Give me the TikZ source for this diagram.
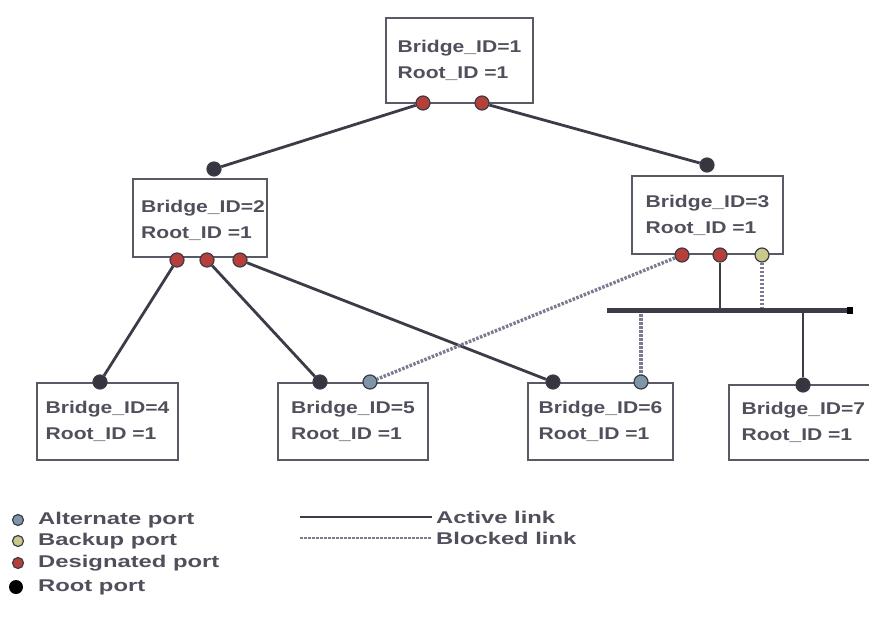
\documentclass[tikz,border=0pt]{standalone}
\usepackage{fontspec}
\setmainfont{Liberation Sans}
\definecolor{linkgray}{HTML}{3C3C48}
\definecolor{boxgray}{HTML}{5A5A64}
\definecolor{txtgray}{HTML}{50505C}
\definecolor{desred}{HTML}{B5403A}
\definecolor{altblue}{HTML}{7F95A8}
\definecolor{bakyellow}{HTML}{C9C98A}
\definecolor{blockgray}{HTML}{7A7A90}
\newcommand{\wide}[1]{\scalebox{1.24}[1]{#1}}
\newcommand{\legwide}[1]{\scalebox{1.4}[1]{#1}}
\tikzset{
  bridge/.style={draw=boxgray, line width=2pt, fill=white, inner sep=0pt},
  idtext/.style={text=txtgray, font=\bfseries\fontsize{17}{26}\selectfont, align=left},
  port/.style={circle, draw=linkgray, line width=1.2pt, minimum size=14pt, inner sep=0pt},
  desport/.style={port, fill=desred},
  rootport/.style={port, fill=linkgray!90!black},
  altport/.style={port, fill=altblue},
  bakport/.style={port, fill=bakyellow},
  active/.style={draw=linkgray, line width=2.8pt},
  blocked/.style={draw=blockgray, line width=3.4pt, dash pattern=on 2.5pt off 1.5pt},
  legtext/.style={text=txtgray, font=\bfseries\fontsize{17}{20}\selectfont, anchor=west, inner sep=0pt}
}
\begin{document}
\begin{tikzpicture}[x=1pt, y=-1pt]
\clip (0,0) rectangle (869,616);
\fill[white] (0,0) rectangle (869,616);

% bridges
\node[bridge, minimum width=147pt, minimum height=85pt] (b1) at (459.5,60.5) {};
\node[bridge, minimum width=134pt, minimum height=78pt] (b2) at (200,218) {};
\node[bridge, minimum width=151pt, minimum height=78pt] (b3) at (707.5,215) {};
\node[bridge, minimum width=141pt, minimum height=77pt] (b4) at (107.5,421.5) {};
\node[bridge, minimum width=150pt, minimum height=77pt] (b5) at (353,421.5) {};
\node[bridge, minimum width=145pt, minimum height=77pt] (b6) at (600.5,421.5) {};
\node[bridge, minimum width=152pt, minimum height=75pt] (b7) at (805,422.5) {};

\node[idtext] (t1) at (b1) {\wide{Bridge\_ID=1}\\\wide{Root\_ID =1}};
\node[idtext] (t2) at ([xshift=3pt,yshift=-2pt]b2) {\wide{Bridge\_ID=2}\\\wide{Root\_ID =1}};
\node[idtext] (t3) at (b3) {\wide{Bridge\_ID=3}\\\wide{Root\_ID =1}};
\node[idtext] (t4) at (b4) {\wide{Bridge\_ID=4}\\\wide{Root\_ID =1}};
\node[idtext] (t5) at (b5) {\wide{Bridge\_ID=5}\\\wide{Root\_ID =1}};
\node[idtext] (t6) at (b6) {\wide{Bridge\_ID=6}\\\wide{Root\_ID =1}};
\node[idtext, anchor=west] (t7) at ([xshift=10pt]b7.west) {\wide{Bridge\_ID=7}\\\wide{Root\_ID =1}};

% shared segment
\coordinate (busL) at (607,310);
\coordinate (busR) at (852,310);
\coordinate (bus3a) at (720,310);
\coordinate (bus3b) at (762,310);
\coordinate (bus6) at (641,310);
\coordinate (bus7) at (803,310);

% ports
\node[desport] (p1a) at (423,103) {};
\node[desport] (p1b) at (482,103) {};
\node[rootport] (r2) at (214,169) {};
\node[desport] (p2a) at (177,260) {};
\node[desport] (p2b) at (207,260) {};
\node[desport] (p2c) at (240,260) {};
\node[rootport] (r3) at (707,165) {};
\node[desport] (p3a) at (682,255) {};
\node[desport] (p3b) at (720,255) {};
\node[bakport] (k3) at (762,255) {};
\node[rootport] (r4) at (100,382) {};
\node[rootport] (r5) at (320,382) {};
\node[altport] (a5) at (370,382) {};
\node[rootport] (r6) at (553,382) {};
\node[altport] (a6) at (641,382) {};
\node[rootport] (r7) at (803,385) {};

% links
\draw[active] (p1a) -- (r2);
\draw[active] (p1b) -- (r3);
\draw[active] (p2a) -- (r4);
\draw[active] (p2b) -- (r5);
\draw[active] (p2c) -- (r6);
\draw[blocked] (p3a) -- (a5);
\draw[active] (p3b) -- (bus3a);
\draw[blocked] (k3) -- (bus3b);
\draw[blocked] (bus6) -- (a6);
\draw[active] (bus7) -- (r7);
\draw[draw=linkgray, line width=5pt] (busL) -- (busR);
\fill[black] ([xshift=-5pt,yshift=-3.5pt]busR) rectangle ([xshift=1pt,yshift=3.5pt]busR);

% legend
\node[altport, minimum size=11pt] (la) at (18,520) {};
\node[bakport, minimum size=11pt] (lb) at (18,541) {};
\node[desport, minimum size=11pt] (ld) at (18,563) {};
\node[circle, fill=black, minimum size=14pt, inner sep=0pt] (lr) at (16,587) {};
\node[legtext] (lta) at (38,520) {\legwide{Alternate port}};
\node[legtext] (ltb) at (38,541) {\legwide{Backup port}};
\node[legtext] (ltd) at (38,563) {\legwide{Designated port}};
\node[legtext] (ltr) at (38,587) {\legwide{Root port}};

\coordinate (actA) at (300,517);
\coordinate (actB) at (432,517);
\coordinate (blkA) at (300,538);
\coordinate (blkB) at (432,538);
\draw[active, line width=2.4pt] (actA) -- (actB);
\draw[blocked, line width=2.4pt] (blkA) -- (blkB);
\node[legtext] (lact) at (436,517) {\legwide{Active link}};
\node[legtext] (lblk) at (436,538) {\legwide{Blocked link}};
\end{tikzpicture}
\end{document}
